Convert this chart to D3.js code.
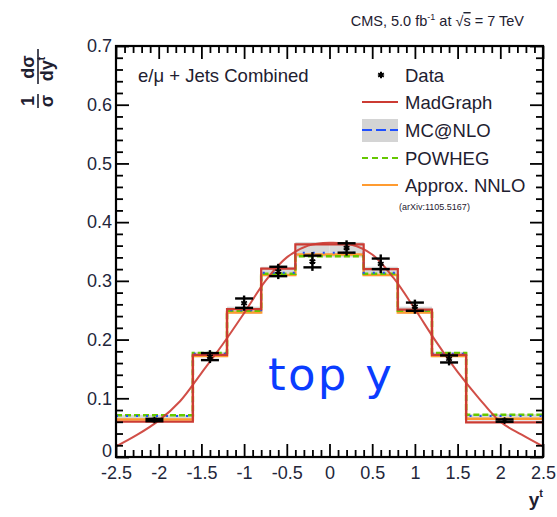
<!DOCTYPE html>
<html>
<head>
<meta charset="utf-8">
<script src="https://cdn.jsdelivr.net/npm/d3@7"></script>
<style>
  html, body { margin: 0; padding: 0; background: #fff; }
  svg { display: block; font-family: "Liberation Sans", Arial, sans-serif; }
</style>
</head>
<body>
<svg id="chart" width="557" height="517"></svg>
<script>
// bin edges of the top-quark rapidity histogram
const binEdges = [-2.5, -1.6, -1.2, -0.8, -0.4, 0, 0.4, 0.8, 1.2, 1.6, 2.5];

// theory predictions, one value per bin
const madgraph = [0.060, 0.174, 0.252, 0.321, 0.362, 0.362, 0.320, 0.251, 0.174, 0.059];
const mcatnlo  = [0.070, 0.176, 0.250, 0.314, 0.348, 0.348, 0.314, 0.250, 0.176, 0.070];
const powheg   = [0.071, 0.177, 0.249, 0.312, 0.342, 0.342, 0.312, 0.249, 0.177, 0.072];
const nnlo     = [0.064, 0.172, 0.246, 0.310, 0.345, 0.345, 0.310, 0.246, 0.172, 0.065];
const bandLo   = [0.062, 0.170, 0.244, 0.308, 0.340, 0.340, 0.308, 0.244, 0.170, 0.062];
const bandHi   = [0.072, 0.179, 0.256, 0.324, 0.366, 0.366, 0.324, 0.256, 0.179, 0.073];

// measured points
const dataX    = [-2.05, -1.4, -1.0, -0.6, -0.2, 0.2, 0.6, 1.0, 1.4, 2.05];
const dataY    = [0.063, 0.171, 0.262, 0.316, 0.333, 0.356, 0.329, 0.256, 0.167, 0.062];
const errStat  = [0.002, 0.006, 0.008, 0.008, 0.010, 0.008, 0.009, 0.007, 0.006, 0.002];
const errTot   = [0.004, 0.011, 0.013, 0.013, 0.016, 0.013, 0.016, 0.012, 0.011, 0.004];

// smooth MadGraph curve
const curveX = [-2.5, -2.25, -2.0, -1.75, -1.5, -1.25, -1.0, -0.75, -0.5, -0.25, 0, 0.25, 0.5, 0.75, 1.0, 1.25, 1.5, 1.75, 2.0, 2.25, 2.5];
const curveY = [0.018, 0.038, 0.062, 0.095, 0.143, 0.192, 0.245, 0.300, 0.340, 0.360, 0.365, 0.362, 0.345, 0.305, 0.252, 0.196, 0.145, 0.100, 0.060, 0.038, 0.018];

// axis ticks
const xMajor = [-2.5, -2, -1.5, -1, -0.5, 0, 0.5, 1, 1.5, 2, 2.5];
const xTickLabels = ['-2.5', '-2', '-1.5', '-1', '-0.5', '0', '0.5', '1', '1.5', '2', '2.5'];
const yMajor = [0, 0.1, 0.2, 0.3, 0.4, 0.5, 0.6, 0.7];
const yTickLabels = ['0', '0.1', '0.2', '0.3', '0.4', '0.5', '0.6', '0.7'];

const m = {left: 116, right: 543, top: 46, bottom: 457};

const svg = d3.select('#chart');

const x = d3.scaleLinear().domain([-2.5, 2.5]).range([m.left, m.right]);
const y = d3.scaleLinear().domain([0, 0.7]).range([m.bottom, m.top]);

const xMinor = d3.range(-25, 26).map(d => d / 10).filter(d => !xMajor.includes(d));
const yMinor = d3.range(0, 36).map(d => d * 0.02).filter((d, i) => i % 5 !== 0);

svg.append('defs').append('clipPath').attr('id', 'plotclip')
  .append('rect')
    .attr('x', m.left).attr('y', m.top)
    .attr('width', m.right - m.left).attr('height', m.bottom - m.top);

const plot = svg.append('g').attr('clip-path', 'url(#plotclip)');

const bins = madgraph.map((v, i) => ({x0: binEdges[i], x1: binEdges[i + 1], i: i}));

// MC@NLO uncertainty band
plot.selectAll('.band')
  .data(bins)
  .enter()
  .append('rect')
    .attr('class', 'band')
    .attr('x', d => x(d.x0))
    .attr('width', d => x(d.x1) - x(d.x0))
    .attr('y', d => y(bandHi[d.i]))
    .attr('height', d => y(bandLo[d.i]) - y(bandHi[d.i]))
    .attr('fill', '#d9d9d9');

function stepPath(vals) {
  const pts = [];
  vals.forEach((v, i) => {
    pts.push([x(binEdges[i]), y(v)]);
    pts.push([x(binEdges[i + 1]), y(v)]);
  });
  return d3.line()(pts);
}

plot.append('path').attr('d', stepPath(nnlo))
  .attr('fill', 'none').attr('stroke', '#ff9b30').attr('stroke-width', 2.5);
plot.append('path').attr('d', stepPath(powheg))
  .attr('fill', 'none').attr('stroke', '#66c800').attr('stroke-width', 2.5)
  .attr('stroke-dasharray', '6,3');
plot.append('path').attr('d', stepPath(mcatnlo))
  .attr('fill', 'none').attr('stroke', '#1f4fff').attr('stroke-width', 2)
  .attr('stroke-dasharray', '2,8');
plot.append('path').attr('d', stepPath(madgraph))
  .attr('fill', 'none').attr('stroke', '#cc3b33').attr('stroke-width', 2.2);

plot.append('path')
  .datum(curveX.map((d, i) => [d, curveY[i]]))
  .attr('d', d3.line().x(d => x(d[0])).y(d => y(d[1])).curve(d3.curveCatmullRom))
  .attr('fill', 'none').attr('stroke', '#cc3b33').attr('stroke-width', 2)
  .attr('opacity', 0.9);

// data points
const pts = svg.append('g').selectAll('.pt')
  .data(dataX.map((d, i) => ({x: d, y: dataY[i], s: errStat[i], t: errTot[i]})))
  .enter()
  .append('g')
    .attr('class', 'pt')
    .attr('stroke', '#000');

pts.append('line')
  .attr('x1', d => x(d.x)).attr('x2', d => x(d.x))
  .attr('y1', d => y(d.y - d.t)).attr('y2', d => y(d.y + d.t))
  .attr('stroke-width', 2.4);
pts.append('line')
  .attr('x1', d => x(d.x) - 9).attr('x2', d => x(d.x) + 9)
  .attr('y1', d => y(d.y + d.s)).attr('y2', d => y(d.y + d.s))
  .attr('stroke-width', 2.4);
pts.append('line')
  .attr('x1', d => x(d.x) - 9).attr('x2', d => x(d.x) + 9)
  .attr('y1', d => y(d.y - d.s)).attr('y2', d => y(d.y - d.s))
  .attr('stroke-width', 2.4);
pts.append('path')
  .attr('d', d => d3.symbol(d3.symbolAsterisk, 30)())
  .attr('transform', d => 'translate(' + x(d.x) + ',' + y(d.y) + ')')
  .attr('stroke-width', 1.8);

// axes: major + minor ticks on all four sides
function styleAxis(g) {
  g.select('.domain').remove();
  g.selectAll('.tick line').attr('stroke', '#000').attr('stroke-width', 1.8);
  g.selectAll('.tick text')
    .attr('fill', '#23263a')
    .style('font-size', '18px')
    .style('font-family', '"Liberation Sans", Arial, sans-serif');
}

svg.append('g')
  .attr('transform', 'translate(0,' + m.bottom + ')')
  .call(d3.axisBottom(x).tickValues(xMajor).tickSize(-13).tickPadding(9)
    .tickFormat((d, i) => xTickLabels[i]))
  .call(styleAxis);
svg.append('g')
  .attr('transform', 'translate(0,' + m.bottom + ')')
  .call(d3.axisBottom(x).tickValues(xMinor).tickSize(-7).tickFormat(''))
  .call(styleAxis);
svg.append('g')
  .attr('transform', 'translate(0,' + m.top + ')')
  .call(d3.axisTop(x).tickValues(xMajor).tickSize(-13).tickFormat(''))
  .call(styleAxis);
svg.append('g')
  .attr('transform', 'translate(0,' + m.top + ')')
  .call(d3.axisTop(x).tickValues(xMinor).tickSize(-7).tickFormat(''))
  .call(styleAxis);

const yAxisG = svg.append('g')
  .attr('transform', 'translate(' + m.left + ',0)')
  .call(d3.axisLeft(y).tickValues(yMajor).tickSize(-13).tickPadding(4)
    .tickFormat((d, i) => yTickLabels[i]))
  .call(styleAxis);
// the zero label sits a little higher so it clears the x labels
yAxisG.selectAll('.tick text').filter(d => d === 0).attr('dy', '-0.05em');
svg.append('g')
  .attr('transform', 'translate(' + m.left + ',0)')
  .call(d3.axisLeft(y).tickValues(yMinor).tickSize(-7).tickFormat(''))
  .call(styleAxis);
svg.append('g')
  .attr('transform', 'translate(' + m.right + ',0)')
  .call(d3.axisRight(y).tickValues(yMajor).tickSize(-13).tickFormat(''))
  .call(styleAxis);
svg.append('g')
  .attr('transform', 'translate(' + m.right + ',0)')
  .call(d3.axisRight(y).tickValues(yMinor).tickSize(-7).tickFormat(''))
  .call(styleAxis);

svg.append('rect')
  .attr('x', m.left).attr('y', m.top)
  .attr('width', m.right - m.left).attr('height', m.bottom - m.top)
  .attr('fill', 'none').attr('stroke', '#000').attr('stroke-width', 2.2);

// title
const title = svg.append('text')
  .attr('x', 524).attr('y', 26)
  .attr('text-anchor', 'end')
  .attr('fill', '#1e2030')
  .style('font-size', '14.5px');
title.append('tspan').text('CMS, 5.0 fb');
title.append('tspan').attr('dy', -6).style('font-size', '9px').text('-1');
title.append('tspan').attr('dy', 6).text(' at \u221A');
title.append('tspan').style('text-decoration', 'overline').text('s');
title.append('tspan').text(' = 7 TeV');

// axis titles
svg.append('text')
  .attr('x', 543).attr('y', 506)
  .attr('text-anchor', 'end')
  .attr('fill', '#1e2030')
  .style('font-size', '19px').style('font-weight', 'bold')
  .text('y')
  .append('tspan').attr('dy', -9).style('font-size', '11px').text('t');

const ylab = svg.append('g')
  .attr('transform', 'translate(38,110) rotate(-90)')
  .attr('fill', '#1e2030')
  .style('font-size', '18px').style('font-weight', 'bold');
ylab.append('text').attr('x', 9).attr('y', -4).attr('text-anchor', 'middle').text('1');
ylab.append('text').attr('x', 9).attr('y', 15).attr('text-anchor', 'middle').text('\u03C3');
ylab.append('line').attr('x1', 2).attr('x2', 16).attr('y1', 0).attr('y2', 0)
  .attr('stroke', '#1e2030').attr('stroke-width', 1.6);
ylab.append('text').attr('x', 43).attr('y', -4).attr('text-anchor', 'middle').text('d\u03C3');
const dy = ylab.append('text').attr('x', 41).attr('y', 15).attr('text-anchor', 'middle').text('dy');
dy.append('tspan').attr('dy', -8).style('font-size', '10px').text('t');
ylab.append('line').attr('x1', 26).attr('x2', 61).attr('y1', 0).attr('y2', 0)
  .attr('stroke', '#1e2030').attr('stroke-width', 1.6);

// legend
const leg = svg.append('g')
  .style('font-size', '18.5px').attr('fill', '#1e2030');
leg.append('text').attr('x', 138).attr('y', 82).text('e/\u03BC + Jets Combined');

leg.append('path')
  .attr('d', d3.symbol(d3.symbolAsterisk, 30)())
  .attr('transform', 'translate(381,75)')
  .attr('stroke', '#000').attr('stroke-width', 2);
leg.append('text').attr('x', 405).attr('y', 82).text('Data');

leg.append('line').attr('x1', 362).attr('x2', 398).attr('y1', 102).attr('y2', 102)
  .attr('stroke', '#cc3b33').attr('stroke-width', 2);
leg.append('text').attr('x', 405).attr('y', 109).text('MadGraph');

leg.append('rect').attr('x', 362).attr('y', 119).attr('width', 36).attr('height', 23)
  .attr('fill', '#d4d4d4');
leg.append('line').attr('x1', 362).attr('x2', 398).attr('y1', 130).attr('y2', 130)
  .attr('stroke', '#1f4fff').attr('stroke-width', 2).attr('stroke-dasharray', '10,4');
leg.append('text').attr('x', 405).attr('y', 137).text('MC@NLO');

leg.append('line').attr('x1', 362).attr('x2', 398).attr('y1', 158).attr('y2', 158)
  .attr('stroke', '#66c800').attr('stroke-width', 2).attr('stroke-dasharray', '6,4');
leg.append('text').attr('x', 405).attr('y', 165).text('POWHEG');

leg.append('line').attr('x1', 362).attr('x2', 398).attr('y1', 185).attr('y2', 185)
  .attr('stroke', '#ff9b30').attr('stroke-width', 2);
leg.append('text').attr('x', 405).attr('y', 192).text('Approx. NNLO');
leg.append('text').attr('x', 399).attr('y', 210).style('font-size', '9px')
  .text('(arXiv:1105.5167)');

// overlay label
svg.append('text')
  .attr('x', 268).attr('y', 390)
  .attr('textLength', 124).attr('lengthAdjust', 'spacing')
  .attr('fill', '#0a3cff')
  .style('font-family', '"DejaVu Sans", Verdana, sans-serif')
  .style('font-size', '45px')
  .text('top y');
</script>
</body>
</html>
